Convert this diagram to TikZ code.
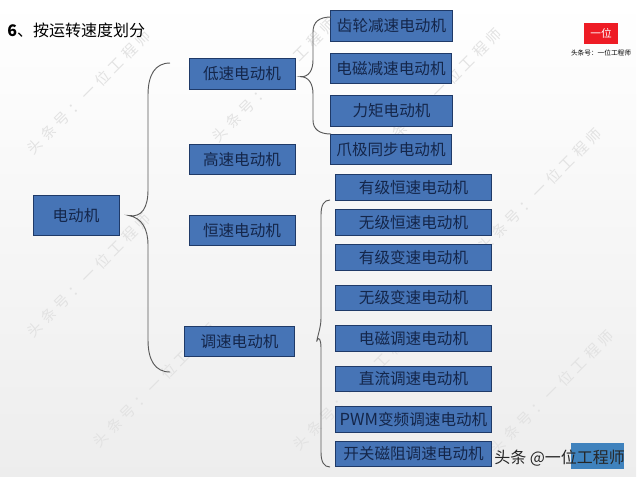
\documentclass[tikz,border=0pt]{standalone}
\usepackage{fontspec}
\setmainfont{Noto Sans CJK SC}
\newfontfamily\wmfont[LetterSpace=30]{Noto Sans CJK SC}
\usepackage{tikz}
\usetikzlibrary{shapes}
\usetikzlibrary{positioning}
\usepackage{xcolor}
\definecolor{boxblue}{HTML}{4674B6}
\definecolor{boxline}{HTML}{1F3A68}
\definecolor{boxtext}{HTML}{14264A}
\definecolor{logored}{HTML}{EE1C25}
\definecolor{wmgray}{HTML}{E2E2E2}
\tikzset{
  mbox/.style={draw=boxline,fill=boxblue,text=boxtext,line width=.7pt,inner sep=0pt,font=\fontsize{11.7pt}{12pt}\selectfont},
  topbox/.style={mbox,minimum width=79.5pt,minimum height=23pt},
  subbox/.style={mbox,minimum width=91pt,minimum height=23pt},
  longbox/.style={mbox,minimum width=117.5pt,minimum height=19pt},
  bracket/.style={draw=black!65,line width=.7pt},
  wmark/.style={text=wmgray,rotate=45,font=\wmfont\fontsize{11pt}{12pt}\selectfont}
}
\begin{document}
\begin{tikzpicture}[x=.75pt,y=-.75pt]
\useasboundingbox (0,0) rectangle (640,480);
\shade[top color=white,bottom color=black!7,draw=none] (0,0) rectangle (636,476);
% watermark
\foreach \wx/\wy [count=\wi] in {89/92,274/80,440/90,89/275,155/385,355/388,540/190,552/392}
  \node[wmark] (wm\wi) at (\wx,\wy) {头条号：一位工程师};
% title and logo
\node[anchor=west,inner sep=0pt,font=\fontsize{12pt}{13pt}\selectfont] (title) at (7,30) {\textbf{6}、按运转速度划分};
\node[fill=logored,text=white,minimum width=25.5pt,minimum height=15.7pt,inner sep=0pt,font=\fontsize{8pt}{9pt}\selectfont] (logo) at (601,33.5) {一位};
\node[below=4pt of logo,inner sep=0pt,font=\fontsize{5pt}{6pt}\selectfont] (logotext) {头条号：一位工程师};
% first level
\node[mbox,minimum width=64.5pt,minimum height=30.5pt] (motor) at (76,215.5) {电动机};
\node[topbox] (low) at (242,74) {低速电动机};
\node[topbox] (high) at (242,159.5) {高速电动机};
\node[topbox] (const) at (242,230.5) {恒速电动机};
\node[topbox,minimum width=83pt] (adj) at (239.5,341.5) {调速电动机};
% low speed group
\node[subbox] (gear) at (391.5,26) {齿轮减速电动机};
\node[subbox] (emred) at (391,68.5) {电磁减速电动机};
\node[subbox] (torque) at (391.5,111) {力矩电动机};
\node[subbox] (claw) at (391,149.5) {爪极同步电动机};
% adjustable group
\node[longbox] (c1) at (413.5,187.5) {有级恒速电动机};
\node[longbox] (c2) at (413.5,222.5) {无级恒速电动机};
\node[longbox] (c3) at (413.5,257.5) {有级变速电动机};
\node[longbox] (c4) at (413.5,298) {无级变速电动机};
\node[longbox] (c5) at (413.5,338.5) {电磁调速电动机};
\node[longbox] (c6) at (413.5,379) {直流调速电动机};
\node[longbox] (c7) at (413.5,419.5) {{\fontsize{12.4pt}{13pt}\selectfont PWM}变频调速电动机};
\node[longbox] (c8) at (413.5,454) {开关磁阻调速电动机};
% braces
\coordinate (tipa) at ([xshift=7pt]motor.east);
\coordinate (tipb) at ([xshift=4pt,yshift=-2pt]low.east);
\coordinate (tipc) at ([xshift=16pt]adj.east);
\draw[bracket] (170,63) .. controls (155,63) and (148,75) .. (148,95) -- (148,190)
  .. controls (148,207) and (142,218) .. (tipa) .. controls (142,218) and (148,229) .. (148,245)
  -- (148,340) .. controls (148,360) and (155,372) .. (170,372);
\draw[bracket] (331,17) .. controls (319,17) and (313,22) .. (313,32) -- (313,60)
  .. controls (313,70) and (309,77) .. (tipb) .. controls (309,77) and (313,84) .. (313,94)
  -- (313,120) .. controls (313,129) and (319,134) .. (331,134);
\draw[bracket] (330,200) .. controls (324,200) and (321,205) .. (321,215) -- (321,318)
  .. controls (321,326) and (319,331) .. (tipc) .. controls (319,335) and (321,340) .. (321,348)
  -- (321,452) .. controls (321,462) and (324,467) .. (330,467);
% corner label
\node[fill=boxblue!90!cyan,minimum width=39.8pt,minimum height=19.5pt,inner sep=0pt] (corner) at (597.5,456) {};
\node[anchor=west,inner sep=0pt,text=black!85,font=\fontsize{12pt}{13pt}\selectfont] (credit) at (494,458) {头条 @一位工程师};
\end{tikzpicture}
\end{document}
